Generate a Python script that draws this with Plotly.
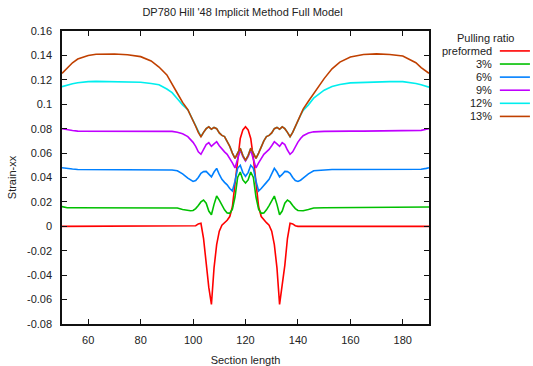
import plotly.graph_objects as go

# Section length positions (mm) shared by every curve
section = [50, 52, 54, 56, 58, 60, 63, 66, 70, 75, 80, 84, 87, 90, 92, 94, 96,
           98, 99, 100, 101, 102, 103, 104, 105, 106, 107, 108, 109, 110, 111, 112,
           113, 114, 115, 116, 117, 118, 119, 120, 121, 122, 123, 124, 125, 126,
           127, 128, 129, 130, 131, 132, 133, 134, 135, 136, 137, 138, 139, 140,
           141, 142,
           144, 146, 150, 153, 156, 160, 165, 170, 175, 180, 183, 185, 187, 189, 190]

preformed = [0, 0, 0, 0, 0, 0, 0, 0, 0, 0, 0, 0, 0, 0, 0, 0, 0,
             0, 0, 0, 0.0005, 0.002, 0.0025, -0.010, -0.032, -0.050, -0.064, -0.034, -0.015, -0.004, 0.001, 0.003,
             0.005, 0.008, 0.016, 0.035, 0.056, 0.072, 0.079, 0.0815, 0.079, 0.072, 0.056, 0.035, 0.016, 0.008,
             0.005, 0.003, 0.001, -0.004, -0.015, -0.034, -0.064, -0.050, -0.032, -0.010, 0.0025, 0.002, 0.0005, 0,
             0, 0,
             0, 0, 0, 0, 0, 0, 0, 0, 0, 0, 0, 0, 0, 0, 0]

pr3 = [0.0162, 0.0152, 0.0152, 0.0152, 0.0152, 0.0152, 0.0152, 0.0152, 0.0152, 0.0152, 0.0152, 0.0152, 0.0152, 0.0152, 0.0152, 0.0150, 0.0138,
       0.0128, 0.0128, 0.0130, 0.0145, 0.0170, 0.0200, 0.0215, 0.0190, 0.0125, 0.0095, 0.0180, 0.0248, 0.0215, 0.0170, 0.0135,
       0.0110, 0.0107, 0.0140, 0.0240, 0.0400, 0.0445, 0.0380, 0.0355, 0.0380, 0.0445, 0.0400, 0.0240, 0.0140, 0.0107,
       0.0110, 0.0135, 0.0170, 0.0215, 0.0248, 0.0180, 0.0095, 0.0125, 0.0190, 0.0215, 0.0200, 0.0170, 0.0145, 0.0130,
       0.0128, 0.0128,
       0.0138, 0.0150, 0.0152, 0.0152, 0.0152, 0.0152, 0.0152, 0.0152, 0.0152, 0.0152, 0.0152, 0.0152, 0.0153, 0.0156, 0.0158]

pr6 = [0.0480, 0.0472, 0.0470, 0.0466, 0.0466, 0.0466, 0.0466, 0.0466, 0.0466, 0.0466, 0.0466, 0.0466, 0.0466, 0.0465, 0.0462, 0.0455, 0.0430,
       0.0395, 0.0378, 0.0368, 0.0375, 0.0400, 0.0435, 0.0448, 0.0450, 0.0425, 0.0405, 0.0445, 0.0475, 0.0425, 0.0385, 0.0360,
       0.0340, 0.0310, 0.0290, 0.0370, 0.0475, 0.0500, 0.0440, 0.0410, 0.0440, 0.0500, 0.0475, 0.0370, 0.0290, 0.0310,
       0.0340, 0.0360, 0.0385, 0.0425, 0.0475, 0.0445, 0.0405, 0.0425, 0.0450, 0.0448, 0.0435, 0.0400, 0.0375, 0.0368,
       0.0378, 0.0395,
       0.0430, 0.0455, 0.0462, 0.0466, 0.0466, 0.0466, 0.0466, 0.0466, 0.0466, 0.0466, 0.0466, 0.0466, 0.0468, 0.0475, 0.0480]

pr9 = [0.0800, 0.0790, 0.0785, 0.0780, 0.0780, 0.0780, 0.0780, 0.0780, 0.0780, 0.0780, 0.0780, 0.0780, 0.0780, 0.0780, 0.0778, 0.0770, 0.0758,
       0.0735, 0.0715, 0.0688, 0.0655, 0.0610, 0.0590, 0.0625, 0.0670, 0.0685, 0.0655, 0.0675, 0.0693, 0.0660, 0.0630, 0.0610,
       0.0590, 0.0560, 0.0520, 0.0478, 0.0550, 0.0625, 0.0570, 0.0535, 0.0570, 0.0625, 0.0550, 0.0478, 0.0520, 0.0560,
       0.0590, 0.0610, 0.0630, 0.0660, 0.0693, 0.0675, 0.0655, 0.0685, 0.0670, 0.0625, 0.0590, 0.0610, 0.0655, 0.0690,
       0.0720, 0.0742,
       0.0765, 0.0774, 0.0778, 0.0780, 0.0780, 0.0780, 0.0780, 0.0780, 0.0780, 0.0780, 0.0780, 0.0782, 0.0786, 0.0795, 0.0800]

pr12 = [0.1144, 0.1158, 0.1168, 0.1176, 0.1182, 0.1185, 0.1187, 0.1186, 0.1185, 0.1183, 0.1180, 0.1170, 0.1160, 0.1125, 0.1095, 0.1045, 0.0995,
        0.0955, 0.0910, 0.0870, 0.0820, 0.0770, 0.0734, 0.0770, 0.0800, 0.0815, 0.0795, 0.0810, 0.0800, 0.0765, 0.0745, 0.0735,
        0.0700, 0.0655, 0.0600, 0.0557, 0.0600, 0.0640, 0.0580, 0.0540, 0.0580, 0.0640, 0.0600, 0.0557, 0.0600, 0.0655,
        0.0700, 0.0735, 0.0745, 0.0765, 0.0800, 0.0810, 0.0795, 0.0815, 0.0800, 0.0770, 0.0734, 0.0770, 0.0820, 0.0870,
        0.0910, 0.0950,
        0.0995, 0.1050, 0.1115, 0.1145, 0.1162, 0.1175, 0.1180, 0.1183, 0.1185, 0.1185, 0.1178, 0.1170, 0.1160, 0.1148, 0.1140]

pr13 = [0.1253, 0.1300, 0.1340, 0.1370, 0.1388, 0.1400, 0.1410, 0.1412, 0.1412, 0.1405, 0.1390, 0.1355, 0.1305, 0.1240, 0.1170, 0.1090, 0.1015,
        0.0955, 0.0910, 0.0870, 0.0820, 0.0770, 0.0734, 0.0770, 0.0800, 0.0815, 0.0795, 0.0810, 0.0800, 0.0765, 0.0745, 0.0735,
        0.0700, 0.0655, 0.0600, 0.0557, 0.0600, 0.0640, 0.0580, 0.0540, 0.0580, 0.0640, 0.0600, 0.0557, 0.0600, 0.0655,
        0.0700, 0.0735, 0.0745, 0.0765, 0.0800, 0.0810, 0.0795, 0.0815, 0.0800, 0.0770, 0.0734, 0.0770, 0.0820, 0.0870,
        0.0910, 0.0960,
        0.1025, 0.1090, 0.1210, 0.1290, 0.1345, 0.1387, 0.1408, 0.1413, 0.1408, 0.1395, 0.1365, 0.1340, 0.1300, 0.1272, 0.1253]

series_names = ["preformed", "3%", "6%", "9%", "12%", "13%"]
series_values = [preformed, pr3, pr6, pr9, pr12, pr13]
series_colors = ["#ff0000", "#00c000", "#0080ff", "#c000ff", "#00eeee", "#c04000"]

x_ticks = [60, 80, 100, 120, 140, 160, 180]
y_ticks = [-0.08, -0.06, -0.04, -0.02, 0, 0.02, 0.04, 0.06, 0.08, 0.1, 0.12, 0.14, 0.16]
y_tick_labels = ["-0.08", "-0.06", "-0.04", "-0.02", "0", "0.02", "0.04", "0.06",
                 "0.08", "0.1", "0.12", "0.14", "0.16"]

FONT = "Liberation Sans, Arial, sans-serif"
TXT = "#222222"

fig = go.Figure()
for name, vals, col in zip(series_names, series_values, series_colors):
    fig.add_trace(go.Scatter(x=section, y=vals, mode="lines", name=name,
                             line=dict(color=col, width=1.6), showlegend=False))

# Key to the right of the plot: label right-aligned, sample line after it
legend_top = 0.932
row_h = 0.0447
fig.add_annotation(text="Pulling ratio", xref="paper", yref="paper",
                   x=1.153, y=0.976, xanchor="center", yanchor="middle",
                   showarrow=False, font=dict(family=FONT, size=11, color=TXT))
for i, (name, col) in enumerate(zip(series_names, series_colors)):
    yy = legend_top - i * row_h
    fig.add_annotation(text=name, xref="paper", yref="paper", x=1.176, y=yy,
                       xanchor="right", yanchor="middle", showarrow=False,
                       font=dict(family=FONT, size=11, color=TXT))
    fig.add_shape(type="line", xref="paper", yref="paper", x0=1.193, x1=1.275,
                  y0=yy, y1=yy, line=dict(color=col, width=1.6))

axis_common = dict(showgrid=False, zeroline=False, showline=True, linecolor="#111111",
                   linewidth=1.5, mirror="allticks", ticks="inside", ticklen=5,
                   tickcolor="#111111", tickwidth=1.2, automargin=False,
                   tickfont=dict(family=FONT, size=11, color=TXT))

fig.update_layout(
    width=533, height=366,
    margin=dict(l=62, r=104, t=31, b=42),
    paper_bgcolor="white", plot_bgcolor="white",
    title=dict(text="DP780 Hill '48 Implicit Method Full Model", x=0.455, xanchor="center",
               y=0.968, yanchor="middle", font=dict(family=FONT, size=11, color=TXT)),
    xaxis=dict(range=[50, 190], tickvals=x_ticks, ticklabelstandoff=5,
               title=dict(text="Section length", standoff=11,
                          font=dict(family=FONT, size=11, color=TXT)),
               **axis_common),
    yaxis=dict(range=[-0.08, 0.16], tickvals=y_ticks, ticktext=y_tick_labels,
               ticklabelstandoff=6,
               title=dict(text="Strain-xx", standoff=8,
                          font=dict(family=FONT, size=11, color=TXT)),
               **axis_common),
)

fig.write_html("out.html")
